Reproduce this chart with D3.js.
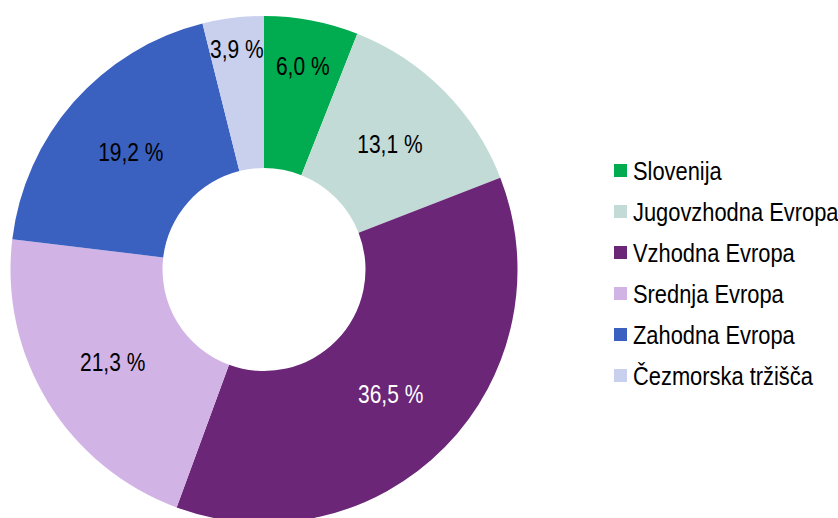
<!DOCTYPE html>
<html>
<head>
<meta charset="utf-8">
<script src="https://cdn.jsdelivr.net/npm/d3@7"></script>
<style>
  body { margin: 0; background: #fff; }
  text { font-family: "Liberation Sans", Arial, sans-serif; }
</style>
</head>
<body>
<div id="chart"></div>
<script>
// regions and their shares (%)
let regions = ["Slovenija", "Jugovzhodna Evropa", "Vzhodna Evropa", "Srednja Evropa", "Zahodna Evropa", "Čezmorska tržišča"];
let shares = [6.0, 13.1, 36.5, 21.3, 19.2, 3.9];

let colors = ["#00ac4f", "#c3dbd6", "#6b2677", "#d2b3e6", "#3a60c0", "#c9d0ee"];
let labelColors = ["#000", "#000", "#fff", "#000", "#000", "#000"];

let w = 838, h = 518;
let cx = 264, cy = 269.5;
let outerR = 253.5, innerR = 101.5;
// narrow font look: scale text horizontally
let squeeze = 0.84;
let legendSqueeze = 0.858;

let svg = d3.select("#chart")
  .append("svg")
    .attr("width", w)
    .attr("height", h);

let data = regions.map((r, i) => ({region: r, value: shares[i]}));

let pie = d3.pie()
  .sort(null)
  .value(d => d.value);

let arc = d3.arc()
  .innerRadius(innerR)
  .outerRadius(outerR);

let donut = svg.append("g")
  .attr("transform", "translate(" + cx + "," + cy + ")");

let slices = pie(data);

donut.selectAll("path")
  .data(slices)
  .enter()
  .append("path")
    .attr("d", arc)
    .attr("fill", (d, i) => colors[i]);

// labels sit mid-ring, small slices get pushed outward
let midR = (innerR + outerR) / 2;
function labelRadius(v) {
  return v < 9 ? midR + (9.9 - v) * 7.5 : midR;
}

donut.selectAll(".lbl")
  .data(slices)
  .enter()
  .append("text")
    .attr("class", "lbl")
    .attr("transform", function(d) {
      let r = labelRadius(d.data.value);
      let a = (d.startAngle + d.endAngle) / 2;
      let x = Math.sin(a) * r, y = -Math.cos(a) * r;
      return "translate(" + x + "," + y + ") scale(" + squeeze + ",1)";
    })
    .attr("text-anchor", "middle")
    .attr("dy", "0.36em")
    .attr("font-size", 25)
    .attr("fill", (d, i) => labelColors[i])
    .text(d => d3.format(".1f")(d.data.value).replace(".", ",") + " %");

// legend
let legend = svg.append("g")
  .attr("transform", "translate(614,170.5)");

let rows = legend.selectAll(".row")
  .data(regions)
  .enter()
  .append("g")
    .attr("class", "row")
    .attr("transform", (d, i) => "translate(0," + (i * 41) + ")");

rows.append("rect")
  .attr("x", 0)
  .attr("y", -6.5)
  .attr("width", 13)
  .attr("height", 13)
  .attr("fill", (d, i) => colors[i]);

rows.append("text")
  .attr("transform", "translate(19,0) scale(" + legendSqueeze + ",1)")
  .attr("dy", "0.36em")
  .attr("font-size", 25.5)
  .attr("fill", "#000")
  .text(d => d);
</script>
</body>
</html>
